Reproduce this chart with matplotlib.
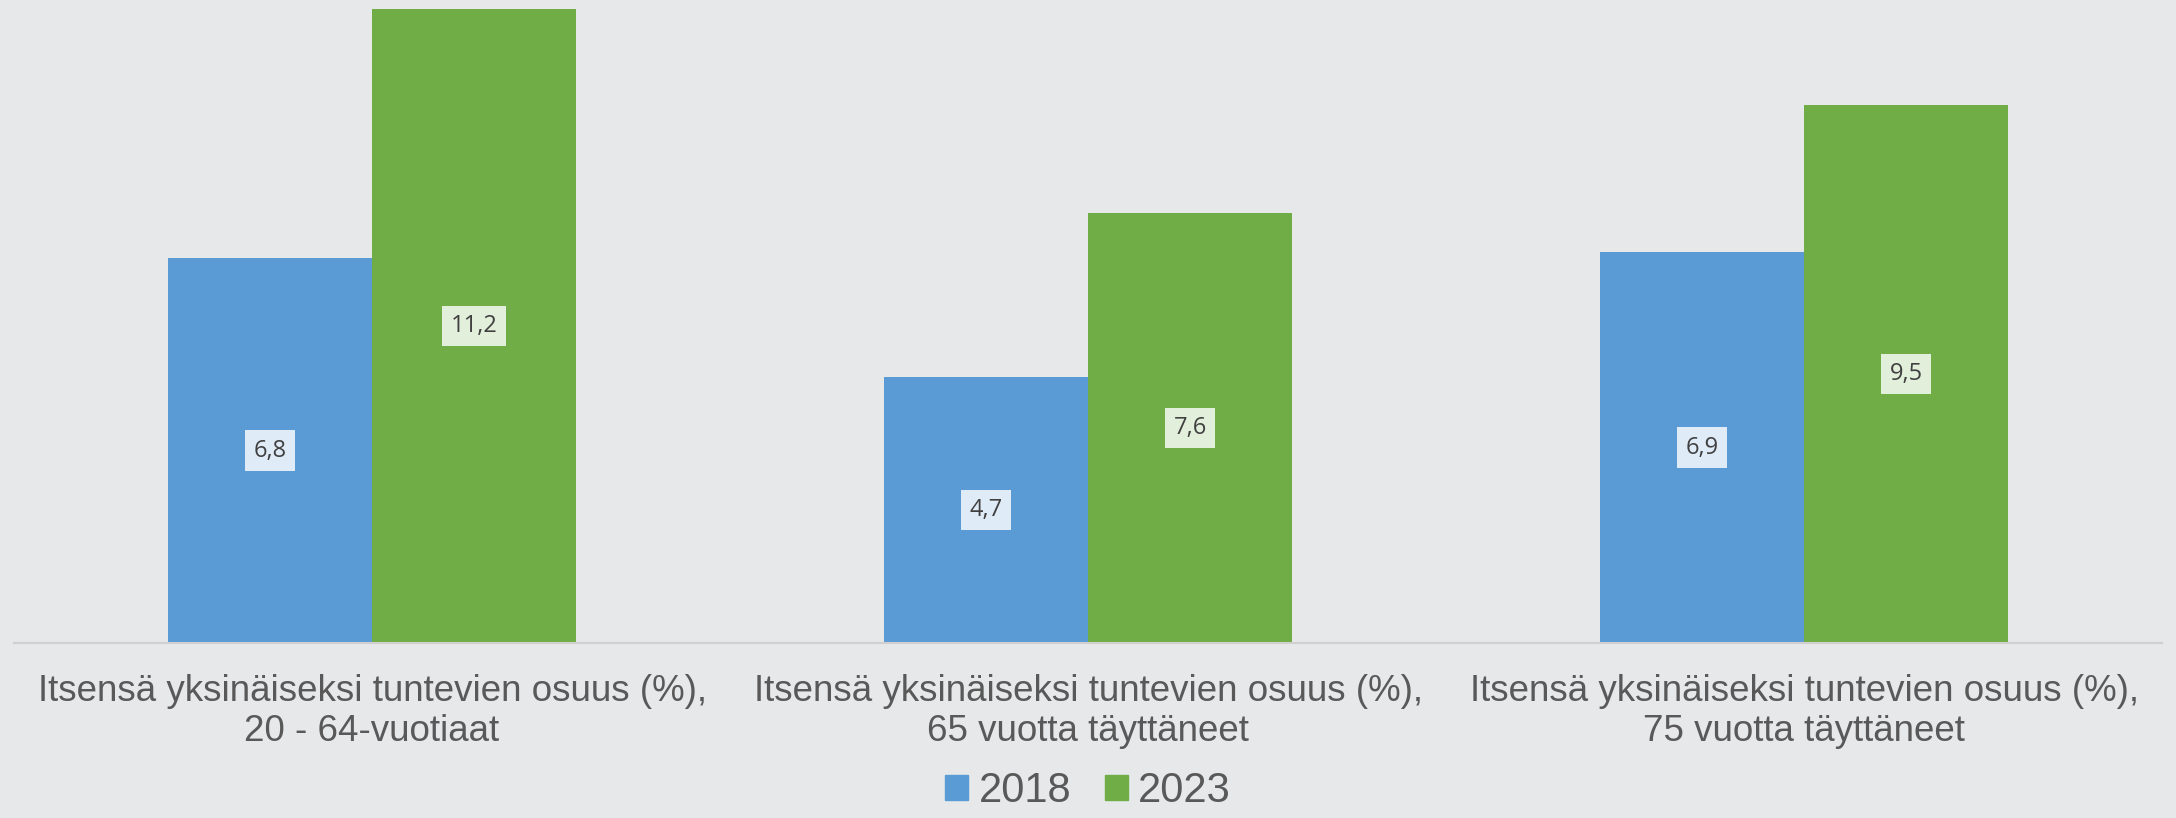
import matplotlib
matplotlib.use("Agg")
import matplotlib.pyplot as plt
import numpy as np
from matplotlib.patches import Patch

categories = [
    "Itsensä yksinäiseksi tuntevien osuus (%),\n20 - 64-vuotiaat",
    "Itsensä yksinäiseksi tuntevien osuus (%),\n65 vuotta täyttäneet",
    "Itsensä yksinäiseksi tuntevien osuus (%),\n75 vuotta täyttäneet",
]
series_names = ["2018", "2023"]
values_2018 = [6.8, 4.7, 6.9]
values_2023 = [11.2, 7.6, 9.5]

bg = "#E7E8EA"
colors = ["#5B9BD5", "#70AD47"]
box_colors = ["#DFEBF7", "#E2EFDA"]

fig = plt.figure(figsize=(21.76, 8.18), dpi=100, facecolor=bg)
ax = fig.add_axes([14/2176, 1 - 643/818, (2162-14)/2176, 643/818])
ax.set_facecolor(bg)

x = np.arange(len(categories))
w = 0.285
for i, (vals, name) in enumerate(zip([values_2018, values_2023], series_names)):
    pos = x + (i - 0.5) * w
    bars = ax.bar(pos, vals, width=w, color=colors[i], label=name, zorder=2)
    for b, v in zip(bars, vals):
        ax.text(b.get_x() + b.get_width()/2, v/2, f"{v:.1f}".replace(".", ","),
                ha="center", va="center", fontsize=17, color="#404040",
                family="Open Sans",
                bbox=dict(boxstyle="square,pad=0.35", fc=box_colors[i], ec="none"),
                zorder=3)

ax.set_xlim(-0.5, 2.5)
ax.set_ylim(0, 643/56.6)
ax.set_yticks([])
ax.set_xticks(x)
ax.set_xticklabels(categories, fontsize=26.5, color="#595959", family="Liberation Sans",
                   linespacing=1.2)
ax.tick_params(axis="x", length=0, pad=22)
for s in ["top", "right", "left"]:
    ax.spines[s].set_visible(False)
ax.spines["bottom"].set_color("#D0D0D0")
ax.spines["bottom"].set_linewidth(1.5)

handles = [Patch(color=c, label=n) for c, n in zip(colors, series_names)]
fig.legend(handles=handles, loc="lower center", bbox_to_anchor=(0.5, -0.012),
           ncol=2, frameon=False, prop={"family": "Liberation Sans", "size": 30},
           labelcolor="#595959", handlelength=0.55, handleheight=0.55,
           handletextpad=0.25, columnspacing=0.8, borderaxespad=0.0)

fig.savefig("out.png", dpi=100, facecolor=bg)
